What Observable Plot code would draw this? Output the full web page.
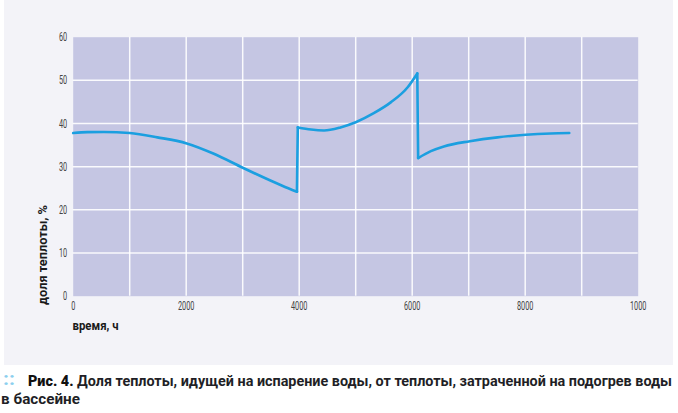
<!DOCTYPE html>
<html>
<head>
<meta charset="utf-8">
<script src="https://cdn.jsdelivr.net/npm/d3@7"></script>
<script src="https://cdn.jsdelivr.net/npm/@observablehq/plot@0.6"></script>
<style>
  html, body { margin: 0; padding: 0; background: #ffffff; }
  body { width: 678px; height: 413px; overflow: hidden; position: relative; }
  #bg { position: absolute; left: 4px; top: 0; width: 669px; height: 365px; background: #f3f3f8; }
  #chart { position: absolute; left: 0; top: 0; width: 678px; height: 365px; }
  #chart svg, #caption svg { display: block; }
  #caption { position: absolute; left: 0; top: 365px; width: 678px; height: 48px; }
</style>
</head>
<body>
<div id="bg"></div>
<div id="chart"></div>
<div id="caption"></div>
<script>
// Data: time (hours) vs share of heat (%)
const hours = [0, 250, 540, 1000, 1490, 2010, 2490, 3010, 3490, 3700, 3960,
               3975, 4210, 4440, 4730, 5000, 5320, 5620, 5920, 6090,
               6105, 6330, 6560, 7020, 7510, 8010, 8450, 8780];
const share = [37.8, 38.0, 38.05, 37.8, 36.8, 35.4, 33.0, 29.7, 26.8, 25.6, 24.2,
               39.1, 38.6, 38.4, 39.1, 40.3, 42.4, 44.9, 48.4, 51.6,
               32.0, 33.6, 34.7, 35.9, 36.8, 37.4, 37.7, 37.8];
// indices where the curve jumps (start of a new smooth piece)
const jumpStarts = [11, 20];

const xTicks = [0, 2000, 4000, 6000, 8000, 10000];
const xTickLabels = ["0", "2000", "4000", "6000", "8000", "1000"];
const yTicks = [0, 10, 20, 30, 40, 50, 60];
const xGrid = [1000, 2000, 3000, 4000, 5000, 6000, 7000, 8000, 9000];
const yGrid = [10, 20, 30, 40, 50];
const xLabel = "время, ч";
const yLabel = "доля теплоты, %";
const captionBold = "Рис. 4.";
const captionLine1 = "Доля теплоты, идущей на испарение воды, от теплоты, затраченной на подогрев воды";
const captionLine2 = "в бассейне";

// smooth pieces + the vertical jump connectors
const rows = hours.map((h, i) => ({h, v: share[i], seg: "s" + jumpStarts.filter(b => b <= i).length}));
jumpStarts.forEach(b => {
  rows.push({h: hours[b - 1], v: share[b - 1], seg: "j" + b});
  rows.push({h: hours[b], v: share[b], seg: "j" + b});
});

const FONT = 'Roboto, "Liberation Sans", sans-serif';
const W = 678, H = 365;
const mL = 72.7, mR = 40.3, mT = 36.7, mB = 69.3;

const chart = Plot.plot({
  width: W, height: H,
  marginLeft: mL, marginRight: mR, marginTop: mT, marginBottom: mB,
  style: {background: "transparent", fontFamily: FONT, fontSize: "12.5px", color: "#444"},
  x: {domain: [0, 10000], label: null},
  y: {domain: [0, 60], label: null},
  marks: [
    Plot.frame({fill: "#c5c6e3", stroke: null}),
    Plot.ruleX(xGrid, {stroke: "#ffffff", strokeWidth: 1.5, strokeOpacity: 0.9}),
    Plot.ruleY(yGrid, {stroke: "#ffffff", strokeWidth: 1.5, strokeOpacity: 0.9}),
    Plot.axisX({ticks: xTicks, tickSize: 0, tickPadding: 5, tickFormat: (d) => xTickLabels[xTicks.indexOf(d)], label: null, fill: "#444"}),
    Plot.axisY({ticks: yTicks, tickSize: 0, tickPadding: 6, label: null, fill: "#444"}),
    Plot.line(rows, {x: "h", y: "v", z: "seg", stroke: "#1b9fe0", strokeWidth: 2.6, curve: "monotone-x", strokeLinejoin: "miter"})
  ]
});

const svg = d3.select(chart);
// condensed look for tick labels
svg.selectAll('g[aria-label="x-axis tick label"] text, g[aria-label="y-axis tick label"] text')
  .each(function() {
    const n = this.textContent.length;
    d3.select(this).attr("textLength", 4.1 * n).attr("lengthAdjust", "spacingAndGlyphs");
  });

svg.append("text")
  .attr("x", 72.5).attr("y", 330)
  .attr("text-anchor", "start")
  .attr("font-family", FONT)
  .attr("font-weight", "bold").attr("font-size", 13.5).attr("fill", "#1a1a1a")
  .attr("textLength", 46).attr("lengthAdjust", "spacingAndGlyphs")
  .text(xLabel);
svg.append("text")
  .attr("transform", "translate(47,305) rotate(-90)")
  .attr("text-anchor", "start")
  .attr("font-family", FONT)
  .attr("font-weight", "bold").attr("font-size", 13.5).attr("fill", "#1a1a1a")
  .attr("textLength", 100).attr("lengthAdjust", "spacingAndGlyphs")
  .text(yLabel);

document.getElementById("chart").appendChild(chart);

// caption
const cap = d3.select("#caption").append("svg")
  .attr("width", 678).attr("height", 48)
  .attr("font-family", FONT);
cap.append("text")
  .attr("x", 3).attr("y", 20)
  .attr("font-size", 18).attr("font-weight", "bold").attr("fill", "#8ccfee")
  .attr("textLength", 12).attr("lengthAdjust", "spacingAndGlyphs")
  .text("::");
const t1 = cap.append("text")
  .attr("transform", "translate(28,21) scale(1,1.154)")
  .attr("font-size", 13).attr("font-weight", "bold").attr("fill", "#1f1f26")
  .attr("textLength", 644).attr("lengthAdjust", "spacingAndGlyphs");
t1.append("tspan").attr("font-weight", 900).attr("fill", "#111").text(captionBold + " ");
t1.append("tspan").text(captionLine1);
cap.append("text")
  .attr("x", 1).attr("y", 39)
  .attr("font-size", 15).attr("font-weight", "bold").attr("fill", "#1f1f26")
  .attr("textLength", 79).attr("lengthAdjust", "spacingAndGlyphs")
  .text(captionLine2);
</script>
</body>
</html>
